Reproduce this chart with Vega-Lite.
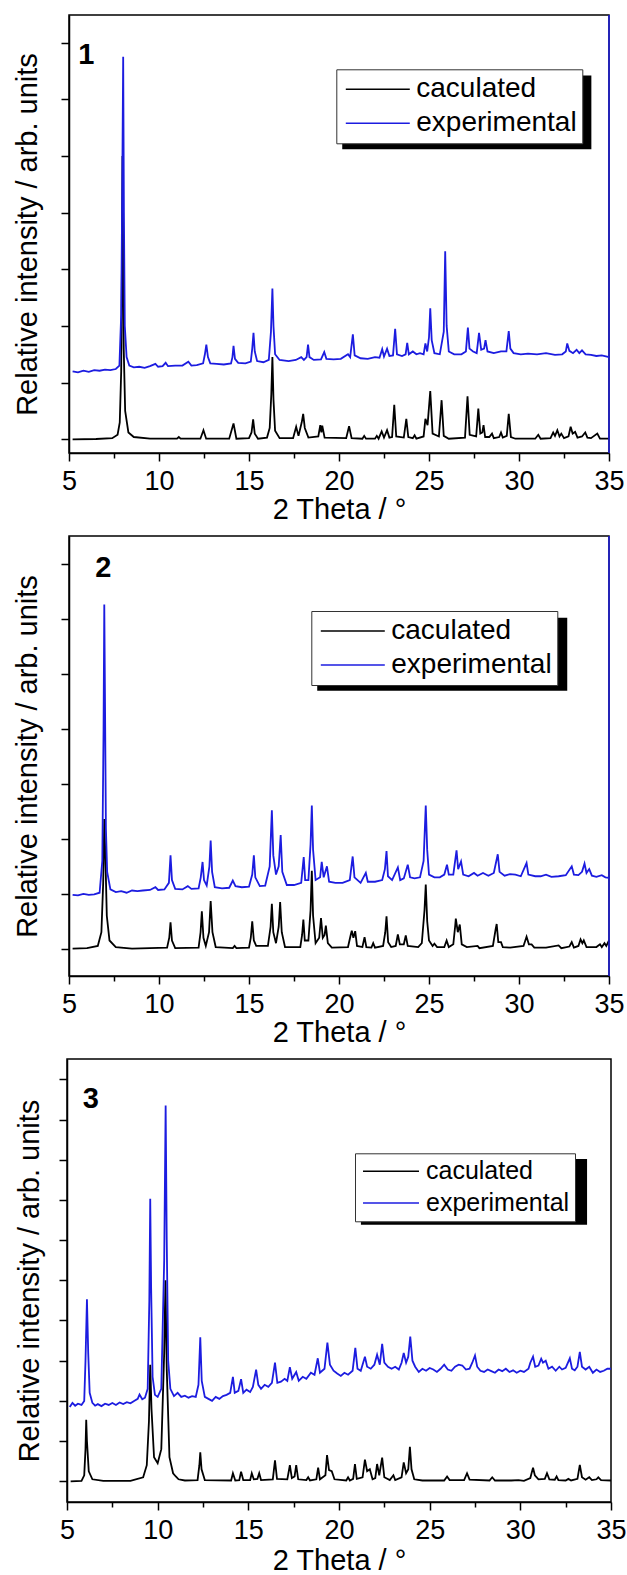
{
"$schema": "https://vega.github.io/schema/vega-lite/v6.json",
"padding": {"left": 12, "top": 13, "right": 5, "bottom": 5},
"spacing": 83,
"bounds": "flush",
"center": true,
"resolve": {"scale": {"color": "independent"}, "legend": {"color": "independent"}},
"config": {
  "font": "Liberation Sans",
  "view": {"stroke": "black", "strokeWidth": 1.5},
  "axis": {"domainColor": "black", "domainWidth": 1.5, "tickColor": "black", "tickWidth": 1.5, "labelColor": "black", "titleColor": "black", "titleFontWeight": "normal", "labelFont": "Liberation Sans", "titleFont": "Liberation Sans", "grid": false, "labelFontSize": 27, "titleFontSize": 29},
  "legend": {"symbolType": "M-3,0H3", "symbolStrokeWidth": 1.5, "labelFont": "Liberation Sans", "labelColor": "black", "padding": 5, "strokeColor": "#333333", "fillColor": "white", "labelLimit": 400}
},
"vconcat": [
{
  "width": 540, "height": 438,
  "data": {"values": [
{"t":5.2,"i":0,"s":"caculated"},{"t":6.5,"i":0.005,"s":"caculated"},{"t":7.4,"i":0.02,"s":"caculated"},{"t":7.7,"i":0.08,"s":"caculated"},{"t":7.82,"i":0.3,"s":"caculated"},{"t":7.9,"i":1.2,"s":"caculated"},{"t":7.94,"i":3.0,"s":"caculated"},{"t":7.97,"i":5.0,"s":"caculated"},{"t":8.0,"i":3.8,"s":"caculated"},{"t":8.04,"i":1.6,"s":"caculated"},{"t":8.12,"i":0.5,"s":"caculated"},{"t":8.3,"i":0.12,"s":"caculated"},{"t":8.6,"i":0.04,"s":"caculated"},{"t":9.5,"i":0.01,"s":"caculated"},{"t":11.0,"i":0.01,"s":"caculated"},{"t":11.1,"i":0.04,"s":"caculated"},{"t":11.2,"i":0.01,"s":"caculated"},{"t":12.3,"i":0.01,"s":"caculated"},{"t":12.47,"i":0.16,"s":"caculated"},{"t":12.62,"i":0.01,"s":"caculated"},{"t":13.9,"i":0.01,"s":"caculated"},{"t":14.14,"i":0.28,"s":"caculated"},{"t":14.3,"i":0.01,"s":"caculated"},{"t":15.0,"i":0.02,"s":"caculated"},{"t":15.14,"i":0.12,"s":"caculated"},{"t":15.23,"i":0.35,"s":"caculated"},{"t":15.32,"i":0.1,"s":"caculated"},{"t":15.5,"i":0.01,"s":"caculated"},{"t":16.0,"i":0.03,"s":"caculated"},{"t":16.15,"i":0.2,"s":"caculated"},{"t":16.24,"i":0.8,"s":"caculated"},{"t":16.3,"i":1.45,"s":"caculated"},{"t":16.36,"i":0.7,"s":"caculated"},{"t":16.45,"i":0.15,"s":"caculated"},{"t":16.7,"i":0.02,"s":"caculated"},{"t":17.45,"i":0.02,"s":"caculated"},{"t":17.62,"i":0.22,"s":"caculated"},{"t":17.75,"i":0.06,"s":"caculated"},{"t":17.93,"i":0.3,"s":"caculated"},{"t":18.01,"i":0.45,"s":"caculated"},{"t":18.1,"i":0.2,"s":"caculated"},{"t":18.3,"i":0.03,"s":"caculated"},{"t":18.85,"i":0.05,"s":"caculated"},{"t":18.96,"i":0.25,"s":"caculated"},{"t":19.02,"i":0.12,"s":"caculated"},{"t":19.07,"i":0.24,"s":"caculated"},{"t":19.2,"i":0.03,"s":"caculated"},{"t":20.4,"i":0.02,"s":"caculated"},{"t":20.56,"i":0.23,"s":"caculated"},{"t":20.7,"i":0.02,"s":"caculated"},{"t":21.3,"i":0.01,"s":"caculated"},{"t":21.4,"i":0.06,"s":"caculated"},{"t":21.5,"i":0.01,"s":"caculated"},{"t":22.0,"i":0.01,"s":"caculated"},{"t":22.1,"i":0.06,"s":"caculated"},{"t":22.2,"i":0.01,"s":"caculated"},{"t":22.37,"i":0.14,"s":"caculated"},{"t":22.5,"i":0.03,"s":"caculated"},{"t":22.67,"i":0.16,"s":"caculated"},{"t":22.8,"i":0.03,"s":"caculated"},{"t":22.95,"i":0.04,"s":"caculated"},{"t":23.07,"i":0.61,"s":"caculated"},{"t":23.18,"i":0.05,"s":"caculated"},{"t":23.6,"i":0.03,"s":"caculated"},{"t":23.74,"i":0.36,"s":"caculated"},{"t":23.85,"i":0.04,"s":"caculated"},{"t":24.1,"i":0.02,"s":"caculated"},{"t":24.2,"i":0.07,"s":"caculated"},{"t":24.3,"i":0.01,"s":"caculated"},{"t":24.7,"i":0.05,"s":"caculated"},{"t":24.8,"i":0.36,"s":"caculated"},{"t":24.92,"i":0.25,"s":"caculated"},{"t":25.07,"i":0.85,"s":"caculated"},{"t":25.2,"i":0.1,"s":"caculated"},{"t":25.55,"i":0.05,"s":"caculated"},{"t":25.7,"i":0.69,"s":"caculated"},{"t":25.82,"i":0.06,"s":"caculated"},{"t":26.1,"i":0.01,"s":"caculated"},{"t":27.0,"i":0.03,"s":"caculated"},{"t":27.14,"i":0.76,"s":"caculated"},{"t":27.26,"i":0.08,"s":"caculated"},{"t":27.62,"i":0.05,"s":"caculated"},{"t":27.74,"i":0.54,"s":"caculated"},{"t":27.85,"i":0.1,"s":"caculated"},{"t":27.96,"i":0.12,"s":"caculated"},{"t":28.03,"i":0.25,"s":"caculated"},{"t":28.12,"i":0.04,"s":"caculated"},{"t":28.35,"i":0.04,"s":"caculated"},{"t":28.5,"i":0.1,"s":"caculated"},{"t":28.6,"i":0.02,"s":"caculated"},{"t":28.9,"i":0.04,"s":"caculated"},{"t":29.0,"i":0.12,"s":"caculated"},{"t":29.1,"i":0.03,"s":"caculated"},{"t":29.32,"i":0.06,"s":"caculated"},{"t":29.43,"i":0.45,"s":"caculated"},{"t":29.55,"i":0.04,"s":"caculated"},{"t":29.8,"i":0.01,"s":"caculated"},{"t":30.9,"i":0.01,"s":"caculated"},{"t":31.07,"i":0.08,"s":"caculated"},{"t":31.2,"i":0.01,"s":"caculated"},{"t":31.75,"i":0.02,"s":"caculated"},{"t":31.9,"i":0.12,"s":"caculated"},{"t":32.0,"i":0.06,"s":"caculated"},{"t":32.13,"i":0.16,"s":"caculated"},{"t":32.25,"i":0.05,"s":"caculated"},{"t":32.35,"i":0.1,"s":"caculated"},{"t":32.5,"i":0.02,"s":"caculated"},{"t":32.75,"i":0.05,"s":"caculated"},{"t":32.87,"i":0.22,"s":"caculated"},{"t":32.98,"i":0.1,"s":"caculated"},{"t":33.12,"i":0.13,"s":"caculated"},{"t":33.25,"i":0.03,"s":"caculated"},{"t":33.5,"i":0.05,"s":"caculated"},{"t":33.68,"i":0.12,"s":"caculated"},{"t":33.8,"i":0.03,"s":"caculated"},{"t":34.0,"i":0.02,"s":"caculated"},{"t":34.35,"i":0.1,"s":"caculated"},{"t":34.5,"i":0.01,"s":"caculated"},{"t":35.0,"i":0.01,"s":"caculated"},
{"t":5.2,"i":1.2,"s":"experimental"},{"t":5.5,"i":1.18,"s":"experimental"},{"t":5.8,"i":1.21,"s":"experimental"},{"t":6.1,"i":1.19,"s":"experimental"},{"t":6.4,"i":1.22,"s":"experimental"},{"t":6.7,"i":1.21,"s":"experimental"},{"t":7.0,"i":1.23,"s":"experimental"},{"t":7.3,"i":1.22,"s":"experimental"},{"t":7.6,"i":1.24,"s":"experimental"},{"t":7.8,"i":1.3,"s":"experimental"},{"t":7.9,"i":2.2,"s":"experimental"},{"t":7.96,"i":4.5,"s":"experimental"},{"t":8.01,"i":6.75,"s":"experimental"},{"t":8.05,"i":4.0,"s":"experimental"},{"t":8.1,"i":2.0,"s":"experimental"},{"t":8.2,"i":1.45,"s":"experimental"},{"t":8.35,"i":1.3,"s":"experimental"},{"t":8.6,"i":1.27,"s":"experimental"},{"t":8.9,"i":1.28,"s":"experimental"},{"t":9.2,"i":1.26,"s":"experimental"},{"t":9.5,"i":1.29,"s":"experimental"},{"t":9.8,"i":1.33,"s":"experimental"},{"t":9.95,"i":1.28,"s":"experimental"},{"t":10.2,"i":1.29,"s":"experimental"},{"t":10.37,"i":1.35,"s":"experimental"},{"t":10.5,"i":1.29,"s":"experimental"},{"t":10.9,"i":1.3,"s":"experimental"},{"t":11.3,"i":1.3,"s":"experimental"},{"t":11.63,"i":1.37,"s":"experimental"},{"t":11.8,"i":1.3,"s":"experimental"},{"t":12.1,"i":1.31,"s":"experimental"},{"t":12.45,"i":1.34,"s":"experimental"},{"t":12.55,"i":1.5,"s":"experimental"},{"t":12.63,"i":1.67,"s":"experimental"},{"t":12.72,"i":1.45,"s":"experimental"},{"t":12.85,"i":1.34,"s":"experimental"},{"t":13.2,"i":1.33,"s":"experimental"},{"t":13.6,"i":1.32,"s":"experimental"},{"t":14.0,"i":1.34,"s":"experimental"},{"t":14.08,"i":1.45,"s":"experimental"},{"t":14.14,"i":1.65,"s":"experimental"},{"t":14.22,"i":1.42,"s":"experimental"},{"t":14.4,"i":1.35,"s":"experimental"},{"t":14.8,"i":1.34,"s":"experimental"},{"t":15.1,"i":1.37,"s":"experimental"},{"t":15.18,"i":1.6,"s":"experimental"},{"t":15.25,"i":1.88,"s":"experimental"},{"t":15.32,"i":1.55,"s":"experimental"},{"t":15.45,"i":1.38,"s":"experimental"},{"t":15.8,"i":1.36,"s":"experimental"},{"t":16.1,"i":1.4,"s":"experimental"},{"t":16.22,"i":1.9,"s":"experimental"},{"t":16.3,"i":2.66,"s":"experimental"},{"t":16.36,"i":2.0,"s":"experimental"},{"t":16.45,"i":1.5,"s":"experimental"},{"t":16.7,"i":1.4,"s":"experimental"},{"t":17.2,"i":1.38,"s":"experimental"},{"t":17.6,"i":1.4,"s":"experimental"},{"t":17.9,"i":1.45,"s":"experimental"},{"t":18.05,"i":1.4,"s":"experimental"},{"t":18.2,"i":1.45,"s":"experimental"},{"t":18.28,"i":1.67,"s":"experimental"},{"t":18.36,"i":1.45,"s":"experimental"},{"t":18.6,"i":1.4,"s":"experimental"},{"t":19.0,"i":1.41,"s":"experimental"},{"t":19.18,"i":1.54,"s":"experimental"},{"t":19.3,"i":1.42,"s":"experimental"},{"t":19.7,"i":1.41,"s":"experimental"},{"t":20.1,"i":1.42,"s":"experimental"},{"t":20.5,"i":1.5,"s":"experimental"},{"t":20.62,"i":1.45,"s":"experimental"},{"t":20.77,"i":1.85,"s":"experimental"},{"t":20.87,"i":1.48,"s":"experimental"},{"t":21.2,"i":1.43,"s":"experimental"},{"t":21.6,"i":1.42,"s":"experimental"},{"t":22.0,"i":1.45,"s":"experimental"},{"t":22.25,"i":1.44,"s":"experimental"},{"t":22.4,"i":1.59,"s":"experimental"},{"t":22.5,"i":1.46,"s":"experimental"},{"t":22.67,"i":1.6,"s":"experimental"},{"t":22.8,"i":1.47,"s":"experimental"},{"t":23.0,"i":1.48,"s":"experimental"},{"t":23.12,"i":1.95,"s":"experimental"},{"t":23.22,"i":1.5,"s":"experimental"},{"t":23.5,"i":1.47,"s":"experimental"},{"t":23.7,"i":1.5,"s":"experimental"},{"t":23.79,"i":1.7,"s":"experimental"},{"t":23.88,"i":1.5,"s":"experimental"},{"t":24.1,"i":1.55,"s":"experimental"},{"t":24.3,"i":1.5,"s":"experimental"},{"t":24.5,"i":1.52,"s":"experimental"},{"t":24.7,"i":1.5,"s":"experimental"},{"t":24.8,"i":1.69,"s":"experimental"},{"t":24.9,"i":1.55,"s":"experimental"},{"t":25.0,"i":1.8,"s":"experimental"},{"t":25.07,"i":2.31,"s":"experimental"},{"t":25.15,"i":1.75,"s":"experimental"},{"t":25.3,"i":1.52,"s":"experimental"},{"t":25.6,"i":1.5,"s":"experimental"},{"t":25.82,"i":1.9,"s":"experimental"},{"t":25.9,"i":3.32,"s":"experimental"},{"t":25.98,"i":2.0,"s":"experimental"},{"t":26.1,"i":1.55,"s":"experimental"},{"t":26.4,"i":1.5,"s":"experimental"},{"t":26.8,"i":1.5,"s":"experimental"},{"t":27.05,"i":1.55,"s":"experimental"},{"t":27.16,"i":1.97,"s":"experimental"},{"t":27.25,"i":1.6,"s":"experimental"},{"t":27.45,"i":1.55,"s":"experimental"},{"t":27.65,"i":1.52,"s":"experimental"},{"t":27.78,"i":1.88,"s":"experimental"},{"t":27.9,"i":1.58,"s":"experimental"},{"t":28.06,"i":1.6,"s":"experimental"},{"t":28.14,"i":1.75,"s":"experimental"},{"t":28.25,"i":1.55,"s":"experimental"},{"t":28.6,"i":1.52,"s":"experimental"},{"t":29.0,"i":1.55,"s":"experimental"},{"t":29.3,"i":1.55,"s":"experimental"},{"t":29.43,"i":1.91,"s":"experimental"},{"t":29.52,"i":1.6,"s":"experimental"},{"t":29.7,"i":1.52,"s":"experimental"},{"t":30.1,"i":1.5,"s":"experimental"},{"t":30.5,"i":1.51,"s":"experimental"},{"t":31.0,"i":1.5,"s":"experimental"},{"t":31.5,"i":1.52,"s":"experimental"},{"t":32.0,"i":1.49,"s":"experimental"},{"t":32.4,"i":1.5,"s":"experimental"},{"t":32.6,"i":1.55,"s":"experimental"},{"t":32.68,"i":1.69,"s":"experimental"},{"t":32.8,"i":1.56,"s":"experimental"},{"t":33.0,"i":1.52,"s":"experimental"},{"t":33.2,"i":1.58,"s":"experimental"},{"t":33.35,"i":1.52,"s":"experimental"},{"t":33.5,"i":1.57,"s":"experimental"},{"t":33.7,"i":1.5,"s":"experimental"},{"t":34.0,"i":1.49,"s":"experimental"},{"t":34.3,"i":1.47,"s":"experimental"},{"t":34.6,"i":1.48,"s":"experimental"},{"t":35.0,"i":1.45,"s":"experimental"}
  ]},
  "layer": [
    {"data": {"values": [{}]}, "mark": {"type": "rect", "color": "black"},
     "encoding": {"x": {"datum": 20.18, "type": "quantitative"}, "x2": {"datum": 34.02}, "y": {"datum": 6.42, "type": "quantitative"}, "y2": {"datum": 5.12}}},
    {"mark": {"type": "line", "strokeWidth": 1.8},
     "encoding": {
       "x": {"field": "t", "type": "quantitative", "scale": {"domain": [5, 35], "nice": false, "zero": false},
             "axis": {"title": "2 Theta / °", "values": [5,7.5,10,12.5,15,17.5,20,22.5,25,27.5,30,32.5,35], "labelExpr": "datum.value % 5 === 0 ? format(datum.value, 'd') : ''", "tickSize": {"condition": {"test": "datum.value % 5 === 0", "value": 8}, "value": 5}, "labelFlush": false, "labelOverlap": false, "labelPadding": 7, "titlePadding": 1}},
       "y": {"field": "i", "type": "quantitative", "scale": {"domain": [-0.242, 7.487], "nice": false, "zero": false},
             "axis": {"title": "Relative intensity / arb. units", "values": [0,0.5,1,1.5,2,2.5,3,3.5,4,4.5,5,5.5,6,6.5,7], "labels": false, "tickSize": {"condition": {"test": "datum.value % 1 === 0", "value": 8}, "value": 5}, "titlePadding": 17.7}},
       "color": {"field": "s", "type": "nominal", "scale": {"domain": ["caculated", "experimental"], "range": ["black", "#1c1ce0"]},
                 "legend": {"orient": "none", "legendX": 267.3, "legendY": 54.3, "title": null, "symbolSize": 455, "symbolOffset": 22.5, "labelOffset": 24.5, "labelFontSize": 28, "rowPadding": 4, "clipHeight": 30}}
     }},
    {"data": {"values": [{}]}, "mark": {"type": "text", "fontSize": 29, "fontWeight": "bold", "color": "black"},
     "encoding": {"x": {"datum": 5.96, "type": "quantitative"}, "y": {"datum": 6.78, "type": "quantitative"}, "text": {"value": "1"}}},
    {"data": {"values": [{}]}, "mark": {"type": "rule", "color": "#1c1ce0", "strokeWidth": 1.5},
     "encoding": {"x": {"datum": 35, "type": "quantitative"}}}
  ]
},
{
  "width": 540, "height": 440,
  "data": {"values": [
{"t":5.2,"i":0,"s":"caculated"},{"t":6.0,"i":0.01,"s":"caculated"},{"t":6.6,"i":0.05,"s":"caculated"},{"t":6.8,"i":0.3,"s":"caculated"},{"t":6.9,"i":1.2,"s":"caculated"},{"t":6.96,"i":2.36,"s":"caculated"},{"t":7.02,"i":1.7,"s":"caculated"},{"t":7.1,"i":0.6,"s":"caculated"},{"t":7.25,"i":0.15,"s":"caculated"},{"t":7.6,"i":0.03,"s":"caculated"},{"t":8.5,"i":0.0,"s":"caculated"},{"t":10.45,"i":0.02,"s":"caculated"},{"t":10.57,"i":0.2,"s":"caculated"},{"t":10.64,"i":0.48,"s":"caculated"},{"t":10.72,"i":0.15,"s":"caculated"},{"t":10.9,"i":0.01,"s":"caculated"},{"t":12.2,"i":0.02,"s":"caculated"},{"t":12.31,"i":0.3,"s":"caculated"},{"t":12.38,"i":0.68,"s":"caculated"},{"t":12.47,"i":0.2,"s":"caculated"},{"t":12.6,"i":0.05,"s":"caculated"},{"t":12.78,"i":0.3,"s":"caculated"},{"t":12.87,"i":0.87,"s":"caculated"},{"t":12.97,"i":0.3,"s":"caculated"},{"t":13.15,"i":0.03,"s":"caculated"},{"t":14.1,"i":0.01,"s":"caculated"},{"t":14.2,"i":0.05,"s":"caculated"},{"t":14.3,"i":0.01,"s":"caculated"},{"t":15.0,"i":0.02,"s":"caculated"},{"t":15.1,"i":0.2,"s":"caculated"},{"t":15.18,"i":0.5,"s":"caculated"},{"t":15.27,"i":0.15,"s":"caculated"},{"t":15.4,"i":0.05,"s":"caculated"},{"t":16.05,"i":0.05,"s":"caculated"},{"t":16.2,"i":0.4,"s":"caculated"},{"t":16.27,"i":0.82,"s":"caculated"},{"t":16.35,"i":0.3,"s":"caculated"},{"t":16.5,"i":0.1,"s":"caculated"},{"t":16.65,"i":0.4,"s":"caculated"},{"t":16.73,"i":0.85,"s":"caculated"},{"t":16.82,"i":0.3,"s":"caculated"},{"t":17.0,"i":0.03,"s":"caculated"},{"t":17.85,"i":0.03,"s":"caculated"},{"t":17.95,"i":0.25,"s":"caculated"},{"t":18.02,"i":0.53,"s":"caculated"},{"t":18.1,"i":0.15,"s":"caculated"},{"t":18.3,"i":0.15,"s":"caculated"},{"t":18.42,"i":0.7,"s":"caculated"},{"t":18.49,"i":1.42,"s":"caculated"},{"t":18.56,"i":0.6,"s":"caculated"},{"t":18.7,"i":0.1,"s":"caculated"},{"t":18.9,"i":0.2,"s":"caculated"},{"t":19.0,"i":0.56,"s":"caculated"},{"t":19.1,"i":0.2,"s":"caculated"},{"t":19.2,"i":0.25,"s":"caculated"},{"t":19.27,"i":0.42,"s":"caculated"},{"t":19.38,"i":0.1,"s":"caculated"},{"t":19.6,"i":0.02,"s":"caculated"},{"t":20.5,"i":0.03,"s":"caculated"},{"t":20.65,"i":0.25,"s":"caculated"},{"t":20.71,"i":0.33,"s":"caculated"},{"t":20.8,"i":0.2,"s":"caculated"},{"t":20.9,"i":0.32,"s":"caculated"},{"t":21.0,"i":0.05,"s":"caculated"},{"t":21.3,"i":0.03,"s":"caculated"},{"t":21.42,"i":0.21,"s":"caculated"},{"t":21.52,"i":0.03,"s":"caculated"},{"t":21.8,"i":0.02,"s":"caculated"},{"t":21.9,"i":0.1,"s":"caculated"},{"t":22.0,"i":0.02,"s":"caculated"},{"t":22.45,"i":0.05,"s":"caculated"},{"t":22.57,"i":0.3,"s":"caculated"},{"t":22.64,"i":0.59,"s":"caculated"},{"t":22.73,"i":0.12,"s":"caculated"},{"t":22.9,"i":0.03,"s":"caculated"},{"t":23.15,"i":0.05,"s":"caculated"},{"t":23.27,"i":0.26,"s":"caculated"},{"t":23.38,"i":0.08,"s":"caculated"},{"t":23.6,"i":0.08,"s":"caculated"},{"t":23.71,"i":0.24,"s":"caculated"},{"t":23.82,"i":0.05,"s":"caculated"},{"t":24.4,"i":0.03,"s":"caculated"},{"t":24.6,"i":0.1,"s":"caculated"},{"t":24.75,"i":0.7,"s":"caculated"},{"t":24.82,"i":1.17,"s":"caculated"},{"t":24.9,"i":0.5,"s":"caculated"},{"t":25.0,"i":0.15,"s":"caculated"},{"t":25.2,"i":0.05,"s":"caculated"},{"t":25.3,"i":0.09,"s":"caculated"},{"t":25.45,"i":0.03,"s":"caculated"},{"t":25.85,"i":0.03,"s":"caculated"},{"t":25.98,"i":0.15,"s":"caculated"},{"t":26.1,"i":0.03,"s":"caculated"},{"t":26.35,"i":0.08,"s":"caculated"},{"t":26.45,"i":0.4,"s":"caculated"},{"t":26.49,"i":0.55,"s":"caculated"},{"t":26.6,"i":0.3,"s":"caculated"},{"t":26.71,"i":0.44,"s":"caculated"},{"t":26.82,"i":0.08,"s":"caculated"},{"t":27.1,"i":0.03,"s":"caculated"},{"t":27.7,"i":0.05,"s":"caculated"},{"t":27.8,"i":0.01,"s":"caculated"},{"t":28.55,"i":0.05,"s":"caculated"},{"t":28.7,"i":0.35,"s":"caculated"},{"t":28.76,"i":0.45,"s":"caculated"},{"t":28.85,"i":0.12,"s":"caculated"},{"t":29.0,"i":0.12,"s":"caculated"},{"t":29.1,"i":0.03,"s":"caculated"},{"t":29.5,"i":0.02,"s":"caculated"},{"t":30.25,"i":0.05,"s":"caculated"},{"t":30.42,"i":0.22,"s":"caculated"},{"t":30.55,"i":0.08,"s":"caculated"},{"t":30.7,"i":0.08,"s":"caculated"},{"t":30.85,"i":0.02,"s":"caculated"},{"t":31.5,"i":0.02,"s":"caculated"},{"t":32.2,"i":0.06,"s":"caculated"},{"t":32.35,"i":0.01,"s":"caculated"},{"t":32.8,"i":0.04,"s":"caculated"},{"t":32.93,"i":0.12,"s":"caculated"},{"t":33.05,"i":0.02,"s":"caculated"},{"t":33.3,"i":0.05,"s":"caculated"},{"t":33.42,"i":0.17,"s":"caculated"},{"t":33.52,"i":0.1,"s":"caculated"},{"t":33.6,"i":0.15,"s":"caculated"},{"t":33.75,"i":0.03,"s":"caculated"},{"t":34.3,"i":0.03,"s":"caculated"},{"t":34.5,"i":0.08,"s":"caculated"},{"t":34.6,"i":0.03,"s":"caculated"},{"t":34.75,"i":0.1,"s":"caculated"},{"t":34.85,"i":0.05,"s":"caculated"},{"t":35.0,"i":0.15,"s":"caculated"},
{"t":5.2,"i":0.98,"s":"experimental"},{"t":5.5,"i":0.97,"s":"experimental"},{"t":5.8,"i":1.0,"s":"experimental"},{"t":6.1,"i":0.98,"s":"experimental"},{"t":6.4,"i":0.99,"s":"experimental"},{"t":6.7,"i":1.02,"s":"experimental"},{"t":6.85,"i":1.6,"s":"experimental"},{"t":6.92,"i":4.0,"s":"experimental"},{"t":6.96,"i":6.27,"s":"experimental"},{"t":7.0,"i":4.5,"s":"experimental"},{"t":7.05,"i":2.2,"s":"experimental"},{"t":7.12,"i":1.4,"s":"experimental"},{"t":7.3,"i":1.08,"s":"experimental"},{"t":7.6,"i":1.03,"s":"experimental"},{"t":7.9,"i":1.05,"s":"experimental"},{"t":8.2,"i":1.02,"s":"experimental"},{"t":8.5,"i":1.06,"s":"experimental"},{"t":8.8,"i":1.05,"s":"experimental"},{"t":9.1,"i":1.06,"s":"experimental"},{"t":9.5,"i":1.07,"s":"experimental"},{"t":9.8,"i":1.12,"s":"experimental"},{"t":9.95,"i":1.07,"s":"experimental"},{"t":10.3,"i":1.08,"s":"experimental"},{"t":10.55,"i":1.2,"s":"experimental"},{"t":10.64,"i":1.7,"s":"experimental"},{"t":10.72,"i":1.25,"s":"experimental"},{"t":10.9,"i":1.09,"s":"experimental"},{"t":11.3,"i":1.08,"s":"experimental"},{"t":11.6,"i":1.14,"s":"experimental"},{"t":11.8,"i":1.09,"s":"experimental"},{"t":12.2,"i":1.1,"s":"experimental"},{"t":12.32,"i":1.3,"s":"experimental"},{"t":12.42,"i":1.58,"s":"experimental"},{"t":12.5,"i":1.25,"s":"experimental"},{"t":12.65,"i":1.15,"s":"experimental"},{"t":12.8,"i":1.5,"s":"experimental"},{"t":12.87,"i":1.97,"s":"experimental"},{"t":12.95,"i":1.4,"s":"experimental"},{"t":13.1,"i":1.12,"s":"experimental"},{"t":13.5,"i":1.1,"s":"experimental"},{"t":13.9,"i":1.11,"s":"experimental"},{"t":14.1,"i":1.24,"s":"experimental"},{"t":14.25,"i":1.14,"s":"experimental"},{"t":14.6,"i":1.12,"s":"experimental"},{"t":15.0,"i":1.13,"s":"experimental"},{"t":15.18,"i":1.35,"s":"experimental"},{"t":15.27,"i":1.7,"s":"experimental"},{"t":15.35,"i":1.3,"s":"experimental"},{"t":15.6,"i":1.14,"s":"experimental"},{"t":15.9,"i":1.15,"s":"experimental"},{"t":16.15,"i":1.5,"s":"experimental"},{"t":16.27,"i":2.52,"s":"experimental"},{"t":16.35,"i":1.7,"s":"experimental"},{"t":16.5,"i":1.35,"s":"experimental"},{"t":16.65,"i":1.5,"s":"experimental"},{"t":16.76,"i":2.07,"s":"experimental"},{"t":16.85,"i":1.4,"s":"experimental"},{"t":17.1,"i":1.16,"s":"experimental"},{"t":17.5,"i":1.16,"s":"experimental"},{"t":17.9,"i":1.2,"s":"experimental"},{"t":18.04,"i":1.67,"s":"experimental"},{"t":18.12,"i":1.25,"s":"experimental"},{"t":18.3,"i":1.25,"s":"experimental"},{"t":18.42,"i":1.9,"s":"experimental"},{"t":18.49,"i":2.61,"s":"experimental"},{"t":18.56,"i":1.8,"s":"experimental"},{"t":18.7,"i":1.25,"s":"experimental"},{"t":18.95,"i":1.3,"s":"experimental"},{"t":19.04,"i":1.58,"s":"experimental"},{"t":19.15,"i":1.3,"s":"experimental"},{"t":19.33,"i":1.5,"s":"experimental"},{"t":19.45,"i":1.22,"s":"experimental"},{"t":19.8,"i":1.2,"s":"experimental"},{"t":20.2,"i":1.2,"s":"experimental"},{"t":20.6,"i":1.25,"s":"experimental"},{"t":20.76,"i":1.68,"s":"experimental"},{"t":20.86,"i":1.3,"s":"experimental"},{"t":21.2,"i":1.2,"s":"experimental"},{"t":21.49,"i":1.38,"s":"experimental"},{"t":21.6,"i":1.22,"s":"experimental"},{"t":22.0,"i":1.22,"s":"experimental"},{"t":22.4,"i":1.25,"s":"experimental"},{"t":22.55,"i":1.45,"s":"experimental"},{"t":22.64,"i":1.78,"s":"experimental"},{"t":22.72,"i":1.32,"s":"experimental"},{"t":22.95,"i":1.25,"s":"experimental"},{"t":23.27,"i":1.48,"s":"experimental"},{"t":23.4,"i":1.25,"s":"experimental"},{"t":23.6,"i":1.28,"s":"experimental"},{"t":23.82,"i":1.53,"s":"experimental"},{"t":23.95,"i":1.3,"s":"experimental"},{"t":24.2,"i":1.28,"s":"experimental"},{"t":24.5,"i":1.3,"s":"experimental"},{"t":24.7,"i":1.6,"s":"experimental"},{"t":24.82,"i":2.61,"s":"experimental"},{"t":24.9,"i":1.8,"s":"experimental"},{"t":25.0,"i":1.35,"s":"experimental"},{"t":25.3,"i":1.3,"s":"experimental"},{"t":25.6,"i":1.3,"s":"experimental"},{"t":25.85,"i":1.35,"s":"experimental"},{"t":26.0,"i":1.53,"s":"experimental"},{"t":26.1,"i":1.35,"s":"experimental"},{"t":26.35,"i":1.35,"s":"experimental"},{"t":26.53,"i":1.79,"s":"experimental"},{"t":26.62,"i":1.45,"s":"experimental"},{"t":26.78,"i":1.59,"s":"experimental"},{"t":26.9,"i":1.35,"s":"experimental"},{"t":27.2,"i":1.32,"s":"experimental"},{"t":27.5,"i":1.38,"s":"experimental"},{"t":27.7,"i":1.33,"s":"experimental"},{"t":28.0,"i":1.38,"s":"experimental"},{"t":28.3,"i":1.33,"s":"experimental"},{"t":28.6,"i":1.38,"s":"experimental"},{"t":28.82,"i":1.72,"s":"experimental"},{"t":28.92,"i":1.4,"s":"experimental"},{"t":29.2,"i":1.33,"s":"experimental"},{"t":29.5,"i":1.36,"s":"experimental"},{"t":29.8,"i":1.35,"s":"experimental"},{"t":30.1,"i":1.32,"s":"experimental"},{"t":30.42,"i":1.56,"s":"experimental"},{"t":30.52,"i":1.35,"s":"experimental"},{"t":30.9,"i":1.32,"s":"experimental"},{"t":31.2,"i":1.32,"s":"experimental"},{"t":31.5,"i":1.35,"s":"experimental"},{"t":31.8,"i":1.31,"s":"experimental"},{"t":32.2,"i":1.32,"s":"experimental"},{"t":32.6,"i":1.34,"s":"experimental"},{"t":32.93,"i":1.5,"s":"experimental"},{"t":33.05,"i":1.35,"s":"experimental"},{"t":33.3,"i":1.34,"s":"experimental"},{"t":33.5,"i":1.4,"s":"experimental"},{"t":33.64,"i":1.55,"s":"experimental"},{"t":33.75,"i":1.38,"s":"experimental"},{"t":33.9,"i":1.45,"s":"experimental"},{"t":34.05,"i":1.33,"s":"experimental"},{"t":34.3,"i":1.31,"s":"experimental"},{"t":34.6,"i":1.34,"s":"experimental"},{"t":34.8,"i":1.3,"s":"experimental"},{"t":35.0,"i":1.29,"s":"experimental"}
  ]},
  "layer": [
    {"data": {"values": [{}]}, "mark": {"type": "rect", "color": "black"},
     "encoding": {"x": {"datum": 18.79, "type": "quantitative"}, "x2": {"datum": 32.68}, "y": {"datum": 6.03, "type": "quantitative"}, "y2": {"datum": 4.70}}},
    {"mark": {"type": "line", "strokeWidth": 1.8},
     "encoding": {
       "x": {"field": "t", "type": "quantitative", "scale": {"domain": [5, 35], "nice": false, "zero": false},
             "axis": {"title": "2 Theta / °", "values": [5,7.5,10,12.5,15,17.5,20,22.5,25,27.5,30,32.5,35], "labelExpr": "datum.value % 5 === 0 ? format(datum.value, 'd') : ''", "tickSize": {"condition": {"test": "datum.value % 5 === 0", "value": 8}, "value": 5}, "labelFlush": false, "labelOverlap": false, "labelPadding": 7, "titlePadding": 1}},
       "y": {"field": "i", "type": "quantitative", "scale": {"domain": [-0.497, 7.517], "nice": false, "zero": false},
             "axis": {"title": "Relative intensity / arb. units", "values": [0,0.5,1,1.5,2,2.5,3,3.5,4,4.5,5,5.5,6,6.5,7], "labels": false, "tickSize": {"condition": {"test": "datum.value % 1 === 0", "value": 8}, "value": 5}, "titlePadding": 17.7}},
       "color": {"field": "s", "type": "nominal", "scale": {"domain": ["caculated", "experimental"], "range": ["black", "#1c1ce0"]},
                 "legend": {"orient": "none", "legendX": 242.3, "legendY": 75, "title": null, "symbolSize": 455, "symbolOffset": 22.5, "labelOffset": 24.5, "labelFontSize": 28, "rowPadding": 4, "clipHeight": 30}}
     }},
    {"data": {"values": [{}]}, "mark": {"type": "text", "fontSize": 29, "fontWeight": "bold", "color": "black"},
     "encoding": {"x": {"datum": 6.906, "type": "quantitative"}, "y": {"datum": 6.94, "type": "quantitative"}, "text": {"value": "2"}}},
    {"data": {"values": [{}]}, "mark": {"type": "rule", "color": "#1c1ce0", "strokeWidth": 1.5},
     "encoding": {"x": {"datum": 35, "type": "quantitative"}}}
  ]
},
{
  "width": 544, "height": 443,
  "data": {"values": [
{"t":5.2,"i":0,"s":"caculated"},{"t":5.8,"i":0.01,"s":"caculated"},{"t":5.95,"i":0.15,"s":"caculated"},{"t":6.02,"i":0.8,"s":"caculated"},{"t":6.06,"i":1.53,"s":"caculated"},{"t":6.1,"i":1.0,"s":"caculated"},{"t":6.2,"i":0.25,"s":"caculated"},{"t":6.4,"i":0.05,"s":"caculated"},{"t":7.0,"i":0.01,"s":"caculated"},{"t":8.5,"i":0.01,"s":"caculated"},{"t":9.2,"i":0.1,"s":"caculated"},{"t":9.4,"i":0.4,"s":"caculated"},{"t":9.52,"i":1.5,"s":"caculated"},{"t":9.59,"i":2.9,"s":"caculated"},{"t":9.66,"i":1.8,"s":"caculated"},{"t":9.8,"i":0.6,"s":"caculated"},{"t":10.0,"i":0.45,"s":"caculated"},{"t":10.2,"i":0.8,"s":"caculated"},{"t":10.36,"i":3.2,"s":"caculated"},{"t":10.43,"i":5.0,"s":"caculated"},{"t":10.5,"i":2.8,"s":"caculated"},{"t":10.65,"i":0.6,"s":"caculated"},{"t":10.85,"i":0.2,"s":"caculated"},{"t":11.0,"i":0.12,"s":"caculated"},{"t":11.15,"i":0.05,"s":"caculated"},{"t":11.5,"i":0.02,"s":"caculated"},{"t":12.2,"i":0.03,"s":"caculated"},{"t":12.3,"i":0.4,"s":"caculated"},{"t":12.35,"i":0.72,"s":"caculated"},{"t":12.42,"i":0.3,"s":"caculated"},{"t":12.6,"i":0.03,"s":"caculated"},{"t":14.05,"i":0.02,"s":"caculated"},{"t":14.15,"i":0.2,"s":"caculated"},{"t":14.28,"i":0.02,"s":"caculated"},{"t":14.5,"i":0.03,"s":"caculated"},{"t":14.6,"i":0.24,"s":"caculated"},{"t":14.72,"i":0.03,"s":"caculated"},{"t":15.1,"i":0.03,"s":"caculated"},{"t":15.19,"i":0.2,"s":"caculated"},{"t":15.3,"i":0.05,"s":"caculated"},{"t":15.5,"i":0.06,"s":"caculated"},{"t":15.6,"i":0.2,"s":"caculated"},{"t":15.7,"i":0.03,"s":"caculated"},{"t":16.35,"i":0.05,"s":"caculated"},{"t":16.47,"i":0.52,"s":"caculated"},{"t":16.58,"i":0.06,"s":"caculated"},{"t":17.15,"i":0.05,"s":"caculated"},{"t":17.29,"i":0.4,"s":"caculated"},{"t":17.4,"i":0.08,"s":"caculated"},{"t":17.55,"i":0.12,"s":"caculated"},{"t":17.64,"i":0.4,"s":"caculated"},{"t":17.75,"i":0.05,"s":"caculated"},{"t":18.2,"i":0.03,"s":"caculated"},{"t":18.3,"i":0.1,"s":"caculated"},{"t":18.4,"i":0.02,"s":"caculated"},{"t":18.75,"i":0.05,"s":"caculated"},{"t":18.85,"i":0.34,"s":"caculated"},{"t":18.95,"i":0.05,"s":"caculated"},{"t":19.25,"i":0.15,"s":"caculated"},{"t":19.34,"i":0.65,"s":"caculated"},{"t":19.45,"i":0.28,"s":"caculated"},{"t":19.6,"i":0.25,"s":"caculated"},{"t":19.75,"i":0.05,"s":"caculated"},{"t":20.4,"i":0.02,"s":"caculated"},{"t":20.5,"i":0.1,"s":"caculated"},{"t":20.6,"i":0.02,"s":"caculated"},{"t":20.78,"i":0.06,"s":"caculated"},{"t":20.88,"i":0.43,"s":"caculated"},{"t":20.98,"i":0.06,"s":"caculated"},{"t":21.3,"i":0.1,"s":"caculated"},{"t":21.43,"i":0.54,"s":"caculated"},{"t":21.55,"i":0.25,"s":"caculated"},{"t":21.7,"i":0.3,"s":"caculated"},{"t":21.85,"i":0.05,"s":"caculated"},{"t":22.0,"i":0.08,"s":"caculated"},{"t":22.1,"i":0.43,"s":"caculated"},{"t":22.22,"i":0.15,"s":"caculated"},{"t":22.38,"i":0.59,"s":"caculated"},{"t":22.5,"i":0.1,"s":"caculated"},{"t":22.8,"i":0.03,"s":"caculated"},{"t":23.0,"i":0.15,"s":"caculated"},{"t":23.1,"i":0.03,"s":"caculated"},{"t":23.45,"i":0.1,"s":"caculated"},{"t":23.57,"i":0.47,"s":"caculated"},{"t":23.7,"i":0.2,"s":"caculated"},{"t":23.82,"i":0.3,"s":"caculated"},{"t":23.91,"i":0.86,"s":"caculated"},{"t":24.0,"i":0.3,"s":"caculated"},{"t":24.15,"i":0.05,"s":"caculated"},{"t":24.6,"i":0.02,"s":"caculated"},{"t":25.8,"i":0.02,"s":"caculated"},{"t":25.96,"i":0.12,"s":"caculated"},{"t":26.1,"i":0.03,"s":"caculated"},{"t":26.9,"i":0.03,"s":"caculated"},{"t":27.06,"i":0.2,"s":"caculated"},{"t":27.2,"i":0.04,"s":"caculated"},{"t":28.3,"i":0.02,"s":"caculated"},{"t":28.45,"i":0.1,"s":"caculated"},{"t":28.6,"i":0.02,"s":"caculated"},{"t":29.5,"i":0.02,"s":"caculated"},{"t":29.9,"i":0.03,"s":"caculated"},{"t":30.2,"i":0.01,"s":"caculated"},{"t":30.55,"i":0.08,"s":"caculated"},{"t":30.7,"i":0.34,"s":"caculated"},{"t":30.8,"i":0.15,"s":"caculated"},{"t":31.0,"i":0.05,"s":"caculated"},{"t":31.35,"i":0.06,"s":"caculated"},{"t":31.47,"i":0.2,"s":"caculated"},{"t":31.6,"i":0.05,"s":"caculated"},{"t":31.9,"i":0.04,"s":"caculated"},{"t":32.0,"i":0.12,"s":"caculated"},{"t":32.1,"i":0.03,"s":"caculated"},{"t":32.5,"i":0.02,"s":"caculated"},{"t":32.65,"i":0.06,"s":"caculated"},{"t":32.8,"i":0.02,"s":"caculated"},{"t":33.15,"i":0.06,"s":"caculated"},{"t":33.28,"i":0.41,"s":"caculated"},{"t":33.4,"i":0.1,"s":"caculated"},{"t":33.6,"i":0.04,"s":"caculated"},{"t":33.8,"i":0.1,"s":"caculated"},{"t":33.95,"i":0.03,"s":"caculated"},{"t":34.2,"i":0.05,"s":"caculated"},{"t":34.3,"i":0.1,"s":"caculated"},{"t":34.45,"i":0.03,"s":"caculated"},{"t":35.0,"i":0.02,"s":"caculated"},
{"t":5.15,"i":1.85,"s":"experimental"},{"t":5.3,"i":1.95,"s":"experimental"},{"t":5.45,"i":1.88,"s":"experimental"},{"t":5.6,"i":1.93,"s":"experimental"},{"t":5.8,"i":1.9,"s":"experimental"},{"t":5.95,"i":2.0,"s":"experimental"},{"t":6.02,"i":3.0,"s":"experimental"},{"t":6.1,"i":4.53,"s":"experimental"},{"t":6.17,"i":3.2,"s":"experimental"},{"t":6.25,"i":2.2,"s":"experimental"},{"t":6.4,"i":1.95,"s":"experimental"},{"t":6.55,"i":1.88,"s":"experimental"},{"t":6.7,"i":1.92,"s":"experimental"},{"t":6.9,"i":1.87,"s":"experimental"},{"t":7.1,"i":1.93,"s":"experimental"},{"t":7.3,"i":1.9,"s":"experimental"},{"t":7.5,"i":1.95,"s":"experimental"},{"t":7.7,"i":1.9,"s":"experimental"},{"t":7.9,"i":1.96,"s":"experimental"},{"t":8.1,"i":1.92,"s":"experimental"},{"t":8.3,"i":1.97,"s":"experimental"},{"t":8.5,"i":1.94,"s":"experimental"},{"t":8.7,"i":2.0,"s":"experimental"},{"t":8.9,"i":2.05,"s":"experimental"},{"t":9.0,"i":2.16,"s":"experimental"},{"t":9.15,"i":2.04,"s":"experimental"},{"t":9.3,"i":2.08,"s":"experimental"},{"t":9.45,"i":2.3,"s":"experimental"},{"t":9.54,"i":4.5,"s":"experimental"},{"t":9.59,"i":7.03,"s":"experimental"},{"t":9.64,"i":4.8,"s":"experimental"},{"t":9.72,"i":2.6,"s":"experimental"},{"t":9.85,"i":2.15,"s":"experimental"},{"t":10.0,"i":2.1,"s":"experimental"},{"t":10.2,"i":2.3,"s":"experimental"},{"t":10.36,"i":5.5,"s":"experimental"},{"t":10.44,"i":9.35,"s":"experimental"},{"t":10.5,"i":6.0,"s":"experimental"},{"t":10.58,"i":3.0,"s":"experimental"},{"t":10.7,"i":2.3,"s":"experimental"},{"t":10.9,"i":2.12,"s":"experimental"},{"t":11.1,"i":2.2,"s":"experimental"},{"t":11.3,"i":2.1,"s":"experimental"},{"t":11.5,"i":2.13,"s":"experimental"},{"t":11.7,"i":2.08,"s":"experimental"},{"t":11.9,"i":2.12,"s":"experimental"},{"t":12.1,"i":2.1,"s":"experimental"},{"t":12.25,"i":2.4,"s":"experimental"},{"t":12.35,"i":3.58,"s":"experimental"},{"t":12.43,"i":2.5,"s":"experimental"},{"t":12.6,"i":2.1,"s":"experimental"},{"t":12.8,"i":2.05,"s":"experimental"},{"t":13.0,"i":2.0,"s":"experimental"},{"t":13.2,"i":2.1,"s":"experimental"},{"t":13.4,"i":2.05,"s":"experimental"},{"t":13.6,"i":2.12,"s":"experimental"},{"t":13.8,"i":2.15,"s":"experimental"},{"t":14.0,"i":2.2,"s":"experimental"},{"t":14.15,"i":2.6,"s":"experimental"},{"t":14.25,"i":2.2,"s":"experimental"},{"t":14.45,"i":2.25,"s":"experimental"},{"t":14.6,"i":2.54,"s":"experimental"},{"t":14.72,"i":2.2,"s":"experimental"},{"t":14.9,"i":2.28,"s":"experimental"},{"t":15.1,"i":2.22,"s":"experimental"},{"t":15.25,"i":2.35,"s":"experimental"},{"t":15.43,"i":2.78,"s":"experimental"},{"t":15.55,"i":2.4,"s":"experimental"},{"t":15.7,"i":2.3,"s":"experimental"},{"t":15.9,"i":2.4,"s":"experimental"},{"t":16.1,"i":2.35,"s":"experimental"},{"t":16.3,"i":2.45,"s":"experimental"},{"t":16.47,"i":2.95,"s":"experimental"},{"t":16.6,"i":2.45,"s":"experimental"},{"t":16.8,"i":2.48,"s":"experimental"},{"t":17.0,"i":2.55,"s":"experimental"},{"t":17.15,"i":2.5,"s":"experimental"},{"t":17.29,"i":2.84,"s":"experimental"},{"t":17.42,"i":2.55,"s":"experimental"},{"t":17.64,"i":2.72,"s":"experimental"},{"t":17.78,"i":2.5,"s":"experimental"},{"t":18.0,"i":2.6,"s":"experimental"},{"t":18.2,"i":2.55,"s":"experimental"},{"t":18.45,"i":2.7,"s":"experimental"},{"t":18.65,"i":2.65,"s":"experimental"},{"t":18.83,"i":3.06,"s":"experimental"},{"t":18.95,"i":2.7,"s":"experimental"},{"t":19.2,"i":2.8,"s":"experimental"},{"t":19.36,"i":3.45,"s":"experimental"},{"t":19.5,"i":2.9,"s":"experimental"},{"t":19.7,"i":2.75,"s":"experimental"},{"t":19.9,"i":2.68,"s":"experimental"},{"t":20.1,"i":2.62,"s":"experimental"},{"t":20.3,"i":2.7,"s":"experimental"},{"t":20.5,"i":2.65,"s":"experimental"},{"t":20.75,"i":2.75,"s":"experimental"},{"t":20.9,"i":3.32,"s":"experimental"},{"t":21.02,"i":2.8,"s":"experimental"},{"t":21.2,"i":2.75,"s":"experimental"},{"t":21.43,"i":3.1,"s":"experimental"},{"t":21.55,"i":2.85,"s":"experimental"},{"t":21.75,"i":2.8,"s":"experimental"},{"t":21.95,"i":2.9,"s":"experimental"},{"t":22.1,"i":3.15,"s":"experimental"},{"t":22.25,"i":2.9,"s":"experimental"},{"t":22.38,"i":3.42,"s":"experimental"},{"t":22.5,"i":2.95,"s":"experimental"},{"t":22.7,"i":2.85,"s":"experimental"},{"t":22.9,"i":2.8,"s":"experimental"},{"t":23.1,"i":2.85,"s":"experimental"},{"t":23.3,"i":2.78,"s":"experimental"},{"t":23.45,"i":2.95,"s":"experimental"},{"t":23.57,"i":3.19,"s":"experimental"},{"t":23.7,"i":2.95,"s":"experimental"},{"t":23.82,"i":3.1,"s":"experimental"},{"t":23.93,"i":3.6,"s":"experimental"},{"t":24.05,"i":3.0,"s":"experimental"},{"t":24.2,"i":2.85,"s":"experimental"},{"t":24.4,"i":2.72,"s":"experimental"},{"t":24.6,"i":2.8,"s":"experimental"},{"t":24.8,"i":2.75,"s":"experimental"},{"t":25.0,"i":2.82,"s":"experimental"},{"t":25.2,"i":2.78,"s":"experimental"},{"t":25.4,"i":2.72,"s":"experimental"},{"t":25.6,"i":2.8,"s":"experimental"},{"t":25.8,"i":2.9,"s":"experimental"},{"t":26.0,"i":2.78,"s":"experimental"},{"t":26.2,"i":2.75,"s":"experimental"},{"t":26.4,"i":2.85,"s":"experimental"},{"t":26.6,"i":2.9,"s":"experimental"},{"t":26.8,"i":2.88,"s":"experimental"},{"t":27.0,"i":2.78,"s":"experimental"},{"t":27.2,"i":2.8,"s":"experimental"},{"t":27.35,"i":2.95,"s":"experimental"},{"t":27.5,"i":3.13,"s":"experimental"},{"t":27.62,"i":2.85,"s":"experimental"},{"t":27.8,"i":2.75,"s":"experimental"},{"t":28.0,"i":2.72,"s":"experimental"},{"t":28.2,"i":2.78,"s":"experimental"},{"t":28.4,"i":2.74,"s":"experimental"},{"t":28.6,"i":2.7,"s":"experimental"},{"t":28.8,"i":2.78,"s":"experimental"},{"t":29.0,"i":2.74,"s":"experimental"},{"t":29.2,"i":2.8,"s":"experimental"},{"t":29.4,"i":2.72,"s":"experimental"},{"t":29.6,"i":2.76,"s":"experimental"},{"t":29.8,"i":2.7,"s":"experimental"},{"t":30.0,"i":2.75,"s":"experimental"},{"t":30.2,"i":2.72,"s":"experimental"},{"t":30.45,"i":2.8,"s":"experimental"},{"t":30.55,"i":2.95,"s":"experimental"},{"t":30.7,"i":3.1,"s":"experimental"},{"t":30.82,"i":2.85,"s":"experimental"},{"t":31.0,"i":2.88,"s":"experimental"},{"t":31.15,"i":3.05,"s":"experimental"},{"t":31.25,"i":2.95,"s":"experimental"},{"t":31.4,"i":3.0,"s":"experimental"},{"t":31.55,"i":2.8,"s":"experimental"},{"t":31.75,"i":2.85,"s":"experimental"},{"t":31.95,"i":2.75,"s":"experimental"},{"t":32.15,"i":2.85,"s":"experimental"},{"t":32.3,"i":2.78,"s":"experimental"},{"t":32.5,"i":2.82,"s":"experimental"},{"t":32.73,"i":3.06,"s":"experimental"},{"t":32.85,"i":2.8,"s":"experimental"},{"t":33.0,"i":2.76,"s":"experimental"},{"t":33.15,"i":2.85,"s":"experimental"},{"t":33.28,"i":3.22,"s":"experimental"},{"t":33.4,"i":2.85,"s":"experimental"},{"t":33.6,"i":2.78,"s":"experimental"},{"t":33.8,"i":2.85,"s":"experimental"},{"t":34.0,"i":2.7,"s":"experimental"},{"t":34.2,"i":2.78,"s":"experimental"},{"t":34.4,"i":2.72,"s":"experimental"},{"t":34.6,"i":2.75,"s":"experimental"},{"t":34.8,"i":2.8,"s":"experimental"},{"t":35.0,"i":2.8,"s":"experimental"}
  ]},
  "layer": [
    {"data": {"values": [{}]}, "mark": {"type": "rect", "color": "black"},
     "encoding": {"x": {"datum": 21.21, "type": "quantitative"}, "x2": {"datum": 33.68}, "y": {"datum": 8.02, "type": "quantitative"}, "y2": {"datum": 6.38}}},
    {"mark": {"type": "line", "strokeWidth": 1.8},
     "encoding": {
       "x": {"field": "t", "type": "quantitative", "scale": {"domain": [5, 35], "nice": false, "zero": false},
             "axis": {"title": "2 Theta / °", "values": [5,7.5,10,12.5,15,17.5,20,22.5,25,27.5,30,32.5,35], "labelExpr": "datum.value % 5 === 0 ? format(datum.value, 'd') : ''", "tickSize": {"condition": {"test": "datum.value % 5 === 0", "value": 8}, "value": 5}, "labelFlush": false, "labelOverlap": false, "labelPadding": 7, "titlePadding": 3}},
       "y": {"field": "i", "type": "quantitative", "scale": {"domain": [-0.515, 10.505], "nice": false, "zero": false},
             "axis": {"title": "Relative intensity / arb. units", "values": [0,0.5,1,1.5,2,2.5,3,3.5,4,4.5,5,5.5,6,6.5,7,7.5,8,8.5,9,9.5,10], "labels": false, "tickSize": {"condition": {"test": "datum.value % 1 === 0", "value": 8}, "value": 5}, "titlePadding": 14}},
       "color": {"field": "s", "type": "nominal", "scale": {"domain": ["caculated", "experimental"], "range": ["black", "#1c1ce0"]},
                 "legend": {"orient": "none", "legendX": 288, "legendY": 94.3, "title": null, "symbolSize": 348, "symbolOffset": 18.5, "labelOffset": 22.5, "labelFontSize": 25, "rowPadding": 5.7, "clipHeight": 26}}
     }},
    {"data": {"values": [{}]}, "mark": {"type": "text", "fontSize": 29, "fontWeight": "bold", "color": "black"},
     "encoding": {"x": {"datum": 6.32, "type": "quantitative"}, "y": {"datum": 9.51, "type": "quantitative"}, "text": {"value": "3"}}}
  ]
}
]
}
